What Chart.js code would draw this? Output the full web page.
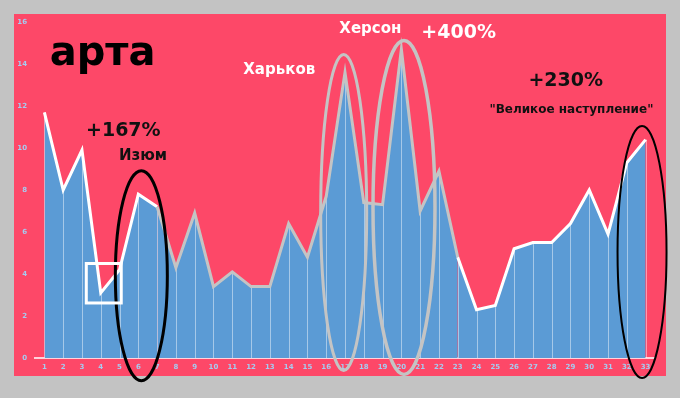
<!DOCTYPE html>
<html>
<head>
<meta charset="utf-8">
<script src="https://cdn.jsdelivr.net/npm/chart.js@4/dist/chart.umd.min.js"></script>
<style>
    html, body { margin: 0; padding: 0; background: #c3c3c3; }
    #wrap { width: 680px; height: 398px; }
</style>
</head>
<body>
<div id="wrap"><canvas id="chart" width="680" height="398"></canvas></div>
<script>
'use strict';

// Chart data
const days = ['1', '2', '3', '4', '5', '6', '7', '8', '9', '10', '11', '12', '13', '14', '15', '16', '17',
    '18', '19', '20', '21', '22', '23', '24', '25', '26', '27', '28', '29', '30', '31', '32', '33'];
const artaValues = [11.7, 8.0, 9.9, 3.1, 4.2, 7.8, 7.2, 4.3, 6.9, 3.4, 4.1, 3.4, 3.4, 6.4, 4.8, 7.7, 13.6,
    7.4, 7.3, 14.7, 7.0, 8.9, 4.8, 2.3, 2.5, 5.2, 5.5, 5.5, 6.4, 8.0, 5.9, 9.3, 10.4];
const yTicks = [0, 2, 4, 6, 8, 10, 12, 14, 16];

// Colors
const pinkColor = "#fd4868";
const fillColor = "#5b9bd5";
const tickColor = "#a6cbf0";
const grayLine = "#c4c4c4";

// Annotations (x in category index, y in value units)
const notes = [
    { text: "арта", x: 3.1, y: 13.95, size: 40, color: "#000" },
    { text: "+167%", x: 4.2, y: 10.55, size: 19, color: "#111" },
    { text: "Изюм", x: 5.25, y: 9.42, size: 15, color: "#111" },
    { text: "Харьков", x: 12.5, y: 13.52, size: 15, color: "#fff" },
    { text: "Херсон", x: 17.35, y: 15.48, size: 15, color: "#fff" },
    { text: "+400%", x: 22.05, y: 15.22, size: 19, color: "#fff" },
    { text: "+230%", x: 27.75, y: 12.95, size: 19, color: "#111" },
    { text: "\"Великое наступление\"", x: 28.05, y: 11.65, size: 12, color: "#111" }
];
const ovals = [
    { x: 5.16, y: 3.92, rx: 26, ry: 105, color: "#000", width: 3 },
    { x: 15.93, y: 6.93, rx: 23, ry: 158, color: grayLine, width: 3 },
    { x: 19.14, y: 7.17, rx: 31, ry: 167, color: grayLine, width: 3.5 },
    { x: 31.81, y: 5.05, rx: 24.5, ry: 126, color: "#000", width: 2 }
];
const boxes = [
    { x0: 2.23, y0: 4.5, x1: 4.09, y1: 2.62, color: "#fff", width: 3 }
];

// Background panel
const panelPlugin = {
    id: 'panel',
    beforeDraw(chart) {
        let ctx = chart.ctx;
        ctx.save();
        ctx.fillStyle = "#c3c3c3";
        ctx.fillRect(0, 0, chart.width, chart.height);
        ctx.fillStyle = pinkColor;
        ctx.fillRect(14, 14, 652, 362);
        ctx.restore();
    }
};

// Drop lines from each point to the baseline
const dropLinePlugin = {
    id: 'dropLines',
    beforeDatasetDraw(chart, args) {
        let ctx = chart.ctx;
        let base = chart.scales.y.getPixelForValue(0);
        ctx.save();
        ctx.strokeStyle = "rgba(255,255,255,0.45)";
        ctx.lineWidth = 1;
        args.meta.data.forEach((pt) => {
            ctx.beginPath();
            ctx.moveTo(Math.round(pt.x) + 0.5, pt.y);
            ctx.lineTo(Math.round(pt.x) + 0.5, base);
            ctx.stroke();
        });
        ctx.restore();
    }
};

// Text, ovals and box
const notesPlugin = {
    id: 'notes',
    afterDraw(chart) {
        let ctx = chart.ctx;
        let xs = chart.scales.x;
        let ys = chart.scales.y;
        ctx.save();
        ctx.textAlign = 'center';
        ctx.textBaseline = 'alphabetic';
        notes.forEach((n) => {
            ctx.font = "bold " + n.size + "px 'DejaVu Sans'";
            ctx.fillStyle = n.color;
            ctx.fillText(n.text, xs.getPixelForValue(n.x), ys.getPixelForValue(n.y));
        });
        ovals.forEach((o) => {
            ctx.beginPath();
            ctx.ellipse(xs.getPixelForValue(o.x), ys.getPixelForValue(o.y), o.rx, o.ry, 0, 0, Math.PI * 2);
            ctx.strokeStyle = o.color;
            ctx.lineWidth = o.width;
            ctx.stroke();
        });
        boxes.forEach((b) => {
            let x0 = xs.getPixelForValue(b.x0);
            let y0 = ys.getPixelForValue(b.y0);
            let x1 = xs.getPixelForValue(b.x1);
            let y1 = ys.getPixelForValue(b.y1);
            ctx.strokeStyle = b.color;
            ctx.lineWidth = b.width;
            ctx.strokeRect(x0, y0, x1 - x0, y1 - y0);
        });
        ctx.restore();
    }
};

let ctx = document.getElementById('chart').getContext('2d');
let chart = new Chart(ctx, {
    type: 'line',
    data: {
        labels: days,
        datasets: [{
            label: 'арта',
            data: artaValues,
            fill: 'origin',
            backgroundColor: fillColor,
            borderColor: '#ffffff',
            borderWidth: 3,
            borderJoinStyle: 'miter',
            tension: 0,
            pointRadius: 0,
            segment: {
                borderColor: (c) => (c.p0DataIndex >= 6 && c.p0DataIndex <= 21) ? grayLine : '#ffffff'
            }
        }]
    },
    options: {
        responsive: false,
        animation: false,
        layout: {
            padding: { left: 14, right: 25, top: 22, bottom: 22 }
        },
        plugins: {
            legend: { display: false },
            tooltip: { enabled: false }
        },
        scales: {
            x: {
                offset: true,
                grid: { display: false, drawTicks: false },
                border: { display: true, color: 'rgba(255,235,240,0.85)', width: 2 },
                ticks: {
                    autoSkip: false,
                    maxRotation: 0,
                    padding: 5,
                    color: tickColor,
                    font: { family: 'DejaVu Sans', size: 7, weight: 'bold' }
                },
                afterFit: (scale) => { scale.height = 18; }
            },
            y: {
                min: 0,
                max: 16,
                afterBuildTicks: (scale) => { scale.ticks = yTicks.map((v) => ({ value: v })); },
                grid: { display: false, drawTicks: false },
                border: { display: false },
                ticks: {
                    padding: 8,
                    color: tickColor,
                    font: { family: 'DejaVu Sans', size: 7, weight: 'bold' }
                },
                afterFit: (scale) => { scale.width = 21; }
            }
        }
    },
    plugins: [panelPlugin, dropLinePlugin, notesPlugin]
});
</script>
</body>
</html>
